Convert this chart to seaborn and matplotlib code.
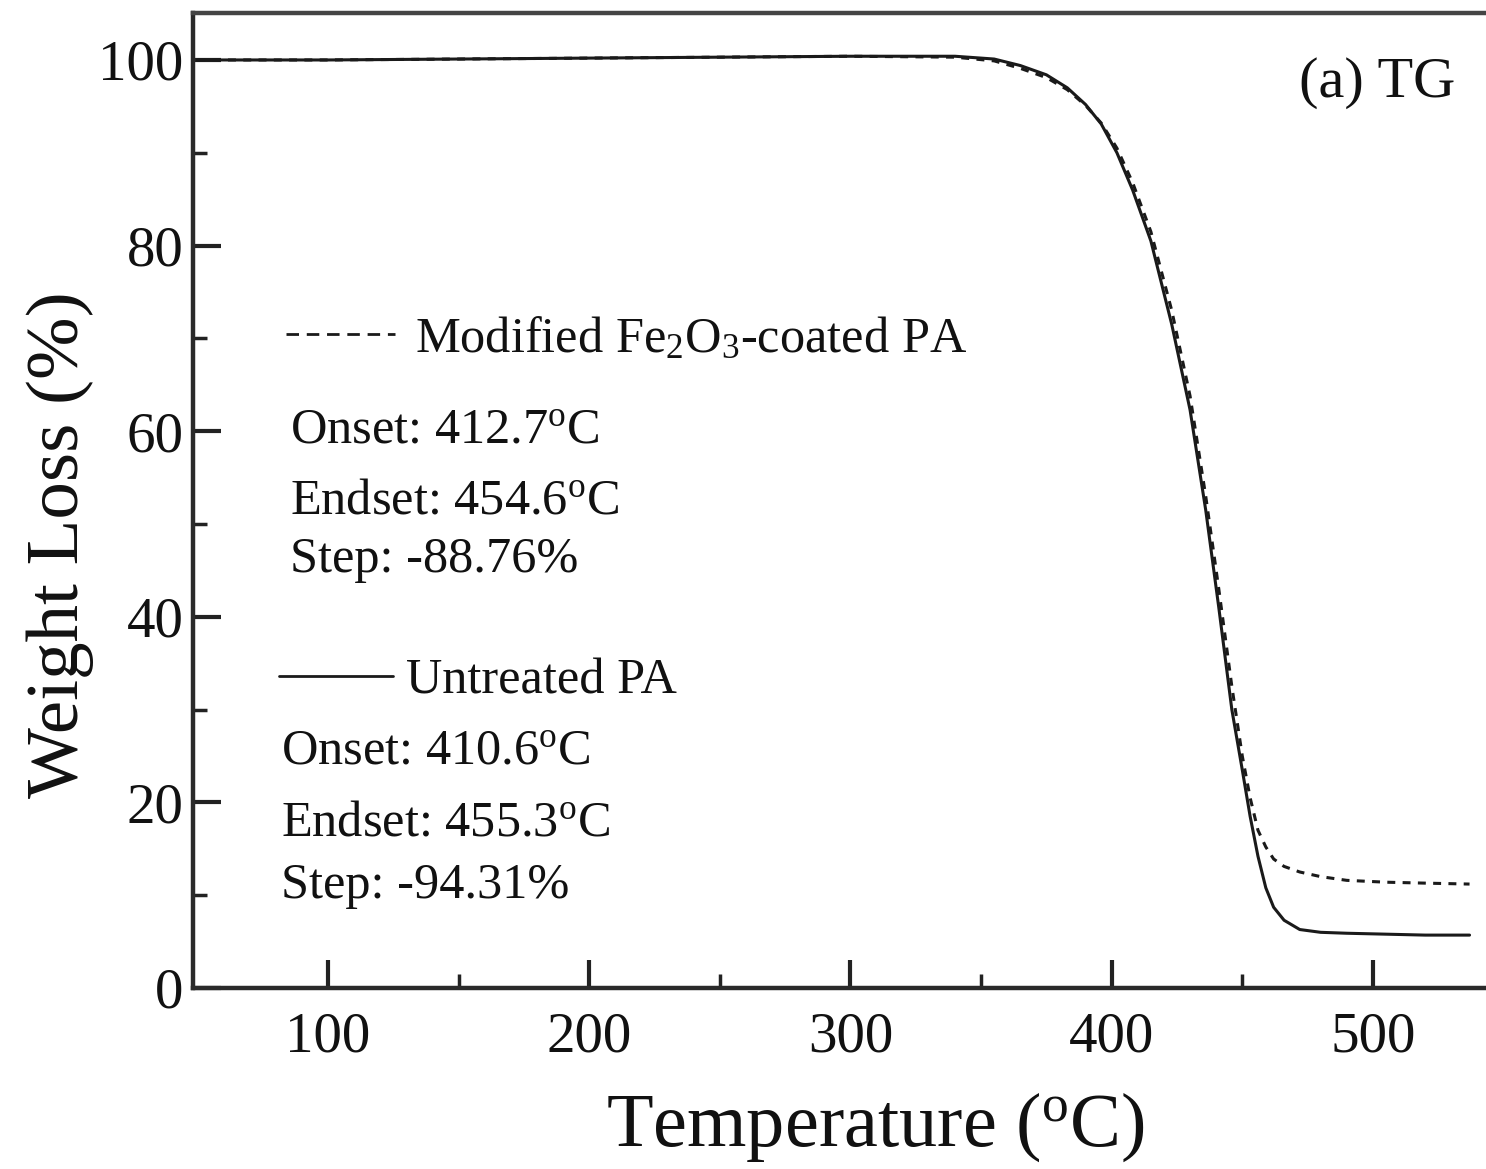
import numpy as np
import pandas as pd
import matplotlib
matplotlib.use("Agg")
import matplotlib.pyplot as plt
from matplotlib.lines import Line2D
from matplotlib.ticker import MultipleLocator, FixedLocator
import seaborn as sns

# ---- data ----
temperature = [50, 100, 150, 200, 250, 300, 340, 355, 365, 375, 383, 390, 396,
               402, 408, 415, 423, 430, 436, 441, 446, 450, 453, 456, 459, 462,
               466, 472, 480, 490, 505, 520, 537]
untreated_pa = [100.0, 100.0, 100.1, 100.2, 100.3, 100.4, 100.4, 100.1, 99.4,
                98.4, 97.0, 95.2, 93.1, 90.0, 86.0, 80.5, 71.5, 62.3, 51.5,
                41.0, 30.0, 23.5, 18.5, 14.2, 10.8, 8.7, 7.3, 6.3, 6.0, 5.9,
                5.8, 5.7, 5.7]
modified_pa = [100.0, 100.0, 100.1, 100.2, 100.3, 100.4, 100.3, 99.9, 99.1,
               98.1, 96.8, 95.1, 93.2, 90.5, 86.8, 81.5, 73.0, 63.8, 53.0,
               43.0, 32.5, 25.0, 20.5, 17.0, 15.2, 13.9, 13.1, 12.5, 12.0,
               11.6, 11.4, 11.3, 11.2]

x_ticks = [100, 200, 300, 400, 500]
x_minor = [150, 250, 350, 450]
y_ticks = [0, 20, 40, 60, 80, 100]

sns.set_theme(style="ticks")
plt.rcParams['font.family'] = ['Liberation Serif', 'DejaVu Serif']
plt.rcParams['mathtext.fontset'] = 'custom'
plt.rcParams['mathtext.rm'] = 'Liberation Serif'
plt.rcParams['mathtext.it'] = 'Liberation Serif:italic'

fig = plt.figure(figsize=(14.86, 11.69), dpi=100)
ax = fig.add_axes([193/1486, 1 - 988/1169, 1293/1486, 975/1169])

df = pd.DataFrame({"T": temperature, "untreated": untreated_pa, "modified": modified_pa})
sns.lineplot(data=df, x="T", y="modified", ax=ax, color="#1a1a1a", lw=2.2,
             dashes=False, linestyle=(0, (2.6, 2.4)))
sns.lineplot(data=df, x="T", y="untreated", ax=ax, color="#1a1a1a", lw=2.2)

ax.set_xlim(48.3, 543.3)
ax.set_ylim(0, 105.06)
ax.set_xticks(x_ticks)
ax.set_yticks(y_ticks)
ax.xaxis.set_minor_locator(FixedLocator(x_minor))
ax.yaxis.set_minor_locator(MultipleLocator(10))
ax.tick_params(axis='both', which='major', direction='in', length=20, width=3,
               labelsize=41, color='#222222', labelcolor='#111111')
ax.tick_params(axis='both', which='minor', direction='in', length=10, width=2.5,
               color='#222222')
ax.tick_params(axis='x', which='major', pad=17)
ax.tick_params(axis='y', which='major', pad=7)

for s in ['left', 'bottom', 'top']:
    ax.spines[s].set_linewidth(3.2)
    ax.spines[s].set_color('#2a2a2a')
ax.spines['top'].set_color('#444444')
ax.spines['right'].set_visible(False)

ax.set_xlabel(r'Temperature ($^{\mathrm{o}}$C)', fontsize=55, color='#111111')
ax.set_ylabel('Weight Loss (%)', fontsize=54, color='#111111')
ax.xaxis.set_label_coords((875 - 193) / 1293, (988 - 1090) / 975)
ax.yaxis.set_label_coords((94 - 193) / 1293, (988 - 545) / 975)


def fx(px):
    return (px - 193) / 1293


def fy(py):
    return (988 - py) / 975


tk = dict(transform=ax.transAxes, fontsize=36.3, color='#111111', va='baseline', ha='left')
ax.text(fx(1455), fy(97), '(a) TG', transform=ax.transAxes, fontsize=42,
        color='#111111', va='baseline', ha='right')

ax.add_line(Line2D([fx(286), fx(395)], [fy(334), fy(334)], transform=ax.transAxes,
                   color='#1a1a1a', lw=2.0, linestyle=(0, (4.5, 2.8))))
ax.text(fx(415), fy(352), r'Modified Fe$_{\mathrm{2}}$O$_{\mathrm{3}}$-coated PA', **tk)
ax.text(fx(290), fy(443), r'Onset: 412.7$^{\mathrm{o}}$C', **tk)
ax.text(fx(290), fy(513), r'Endset: 454.6$^{\mathrm{o}}$C', **tk)
ax.text(fx(290), fy(572), 'Step: -88.76%', **tk)

ax.add_line(Line2D([fx(279), fx(393)], [fy(676), fy(676)], transform=ax.transAxes,
                   color='#1a1a1a', lw=2.0))
ax.text(fx(406), fy(694), 'Untreated PA', **tk)
ax.text(fx(281), fy(764), r'Onset: 410.6$^{\mathrm{o}}$C', **tk)
ax.text(fx(281), fy(836), r'Endset: 455.3$^{\mathrm{o}}$C', **tk)
ax.text(fx(281), fy(898), 'Step: -94.31%', **tk)

fig.savefig('out.png', dpi=100, facecolor='white')
